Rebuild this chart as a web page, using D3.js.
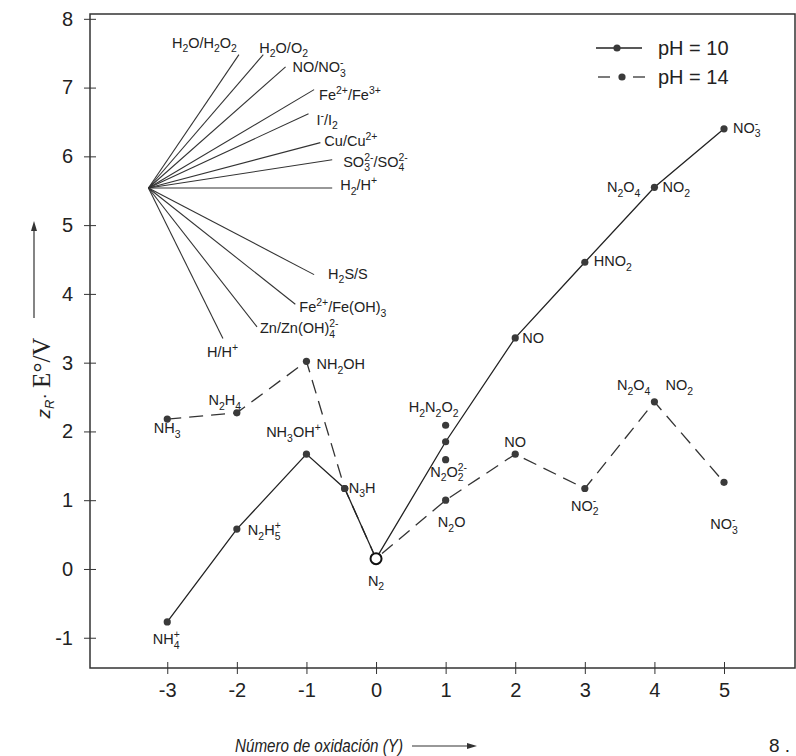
<!DOCTYPE html>
<html>
<head>
<meta charset="utf-8">
<script src="https://cdn.jsdelivr.net/npm/d3@7"></script>
<style>
  body { margin: 0; background: #fff; }
  text { font-family: "Liberation Sans", Arial, sans-serif; fill: #222; }
</style>
</head>
<body>
<script>
// oxidation state ticks and potential ticks
const xTicks = [-3, -2, -1, 0, 1, 2, 3, 4, 5];
const yTicks = [-1, 0, 1, 2, 3, 4, 5, 6, 7, 8];

// pH = 10 (solid)
const ph10Ox = [-3, -2, -1, -0.45, 0, 1, 2, 3, 4, 5];
const ph10E = [-0.77, 0.58, 1.67, 1.17, 0.15, 1.85, 3.36, 4.46, 5.55, 6.40];
const ph10Labels = ["NH_4^+", "N_2H_5^+", "NH_3OH^+", "N_3H", "N_2", "", "NO", "HNO_2", "NO_2", "NO_3^-"];

// pH = 14 (dashed)
const ph14Ox = [-3, -2, -1, -0.45, 0, 1, 2, 3, 4, 5];
const ph14E = [2.18, 2.27, 3.02, 1.17, 0.15, 1.00, 1.67, 1.17, 2.43, 1.26];
const ph14Labels = ["NH_3", "N_2H_4", "NH_2OH", "", "", "N_2O", "NO", "NO_2^-", "NO_2", "NO_3^-"];

// loose points at Y = 1
const extraOx = [1, 1];
const extraE = [2.09, 1.59];
const extraLabels = ["H_2N_2O_2", "N_2O_2^2-"];

const dimerLabel = "N_2O_4";
const openOx = 0; // N2 drawn as open circle

// fan of reference couples
const fanOrigin = [-3.27, 5.54];
const fanCouples = ["H_2O/H_2O_2", "H_2O/O_2", "NO/NO_3^-", "Fe^2+/Fe^3+", "I^-/I_2", "Cu/Cu^2+",
  "SO_3^2-/SO_4^2-", "H_2/H^+", "H_2S/S", "Fe^2+/Fe(OH)_3", "Zn/Zn(OH)_4^2-", "H/H^+"];
const fanEndOx = [-1.97, -1.62, -1.30, -0.89, -0.97, -0.80, -0.63, -0.63, -0.89, -1.16, -1.71, -2.20];
const fanEndE = [7.48, 7.48, 7.30, 6.97, 6.62, 6.20, 5.95, 5.54, 4.28, 3.85, 3.52, 3.35];

// label placement (pixel offsets from the mark)
const ph10Pos = [[-1, 22, "middle"], [11, 6, "start"], [-13, -17, "middle"], [4, 4, "start"], [0, 27, "middle"],
  null, [7, 5, "start"], [9, 4, "start"], [8, 5, "start"], [9, 4, "start"]];
const ph14Pos = [[0, 14, "middle"], [-12, -8, "middle"], [10, 8, "start"], null, null,
  [6, 27, "middle"], [0, -7, "middle"], [0, 22, "middle"], [11, -12, "start"], [0, 47, "middle"]];
const extraPos = [[-12, -13, "middle"], [3, 17, "middle"]];
const dimerPos = [[-14, 5], [-4, -12]];
const fanPos = [[-2, -7, "end"], [-4, -2, "start"], [7, 5, "start"], [5, 10, "start"], [8, 11, "start"],
  [4, 3, "start"], [11, 7, "start"], [8, 2, "start"], [14, 4, "start"], [4, 8, "start"], [3, 6, "start"], [-16, 18, "start"]];

const W = 796, H = 756;
const svg = d3.select("body").append("svg").attr("width", W).attr("height", H);

const x = d3.scaleLinear().domain([-4.11, 6.02]).range([90, 795]);
const y = d3.scaleLinear().domain([-1.44, 8.07]).range([668, 14]);

// chemical formula text: _x subscript, ^x superscript (stacked after a subscript)
function chem(sel, str, fs) {
  const re = /([_^])([0-9+\-]+)|([^_^]+)/g;
  let m, cur = 0, lastSub = 0;
  sel.attr("font-size", fs);
  while ((m = re.exec(str)) !== null) {
    const ts = sel.append("tspan");
    if (m[3]) {
      ts.text(m[3]).attr("dy", -cur);
      cur = 0; lastSub = 0;
    } else if (m[1] === "_") {
      const off = 0.32 * fs;
      ts.text(m[2]).attr("font-size", 0.72 * fs).attr("dy", off - cur);
      cur = off;
      lastSub = m[2].length * 0.4 * fs;
    } else {
      const off = -0.42 * fs;
      ts.text(m[2]).attr("font-size", 0.72 * fs).attr("dy", off - cur);
      if (lastSub) ts.attr("dx", -lastSub);
      cur = off; lastSub = 0;
    }
  }
}

function label(px, py, str, pos, fs) {
  const t = svg.append("text")
    .attr("x", px + pos[0]).attr("y", py + pos[1])
    .attr("text-anchor", pos[2] || "start");
  chem(t, str, fs || 14.5);
}

// frame
svg.append("rect")
  .attr("x", x.range()[0]).attr("y", y.range()[1])
  .attr("width", x.range()[1] - x.range()[0]).attr("height", y.range()[0] - y.range()[1])
  .attr("fill", "none").attr("stroke", "#333").attr("stroke-width", 1.5);

// axes
const yAxis = svg.append("g").attr("transform", "translate(90,0)")
  .call(d3.axisLeft(y).tickValues(yTicks).tickSize(6).tickPadding(11).tickFormat(d => String(d)));
yAxis.select(".domain").remove();
yAxis.selectAll(".tick line").attr("x1", 6).attr("stroke", "#333");
yAxis.selectAll("text").attr("font-size", 20).style("font-family", "Liberation Sans, Arial, sans-serif");

const xAxis = svg.append("g").attr("transform", "translate(0,668)")
  .call(d3.axisBottom(x).tickValues(xTicks).tickSize(6).tickPadding(9).tickFormat(d => String(d)));
xAxis.select(".domain").remove();
xAxis.selectAll(".tick line").attr("y1", -6).attr("stroke", "#333");
xAxis.selectAll("text").attr("font-size", 20).style("font-family", "Liberation Sans, Arial, sans-serif");

// fan lines
fanCouples.forEach((c, i) => {
  svg.append("line")
    .attr("x1", x(fanOrigin[0])).attr("y1", y(fanOrigin[1]))
    .attr("x2", x(fanEndOx[i])).attr("y2", y(fanEndE[i]))
    .attr("stroke", "#333").attr("stroke-width", 1.1);
  label(x(fanEndOx[i]), y(fanEndE[i]), c, fanPos[i]);
});

// series
const line = d3.line().x(d => x(d[0])).y(d => y(d[1]));
const ph10 = ph10Ox.map((v, i) => [v, ph10E[i]]);
const ph14 = ph14Ox.map((v, i) => [v, ph14E[i]]);

svg.append("path").datum(ph14).attr("d", line)
  .attr("fill", "none").attr("stroke", "#333").attr("stroke-width", 1.3)
  .attr("stroke-dasharray", "14,8");
svg.append("path").datum(ph10).attr("d", line)
  .attr("fill", "none").attr("stroke", "#222").attr("stroke-width", 1.3);

const dots = ph10.concat(ph14).concat(extraOx.map((v, i) => [v, extraE[i]]))
  .filter(d => d[0] !== openOx);
svg.selectAll("circle.pt").data(dots).join("circle").attr("class", "pt")
  .attr("cx", d => x(d[0])).attr("cy", d => y(d[1])).attr("r", 3.6)
  .attr("fill", "#3a3a3a");

svg.append("circle")
  .attr("cx", x(openOx)).attr("cy", y(ph10E[ph10Ox.indexOf(openOx)])).attr("r", 5.5)
  .attr("fill", "#fff").attr("stroke", "#111").attr("stroke-width", 2);

// species labels
ph10.forEach((d, i) => { if (ph10Labels[i]) label(x(d[0]), y(d[1]), ph10Labels[i], ph10Pos[i]); });
ph14.forEach((d, i) => { if (ph14Labels[i]) label(x(d[0]), y(d[1]), ph14Labels[i], ph14Pos[i]); });
extraOx.forEach((v, i) => label(x(v), y(extraE[i]), extraLabels[i], extraPos[i]));
label(x(ph10Ox[8]), y(ph10E[8]), dimerLabel, [dimerPos[0][0], dimerPos[0][1], "end"]);
label(x(ph14Ox[8]), y(ph14E[8]), dimerLabel, [dimerPos[1][0], dimerPos[1][1], "end"]);

// legend
const lg = svg.append("g");
lg.append("line").attr("x1", 596).attr("x2", 642).attr("y1", 48).attr("y2", 48)
  .attr("stroke", "#222").attr("stroke-width", 1.3);
lg.append("circle").attr("cx", 617).attr("cy", 48).attr("r", 3.6).attr("fill", "#3a3a3a");
lg.append("text").attr("x", 658).attr("y", 55).attr("font-size", 20).text("pH = 10");
lg.append("line").attr("x1", 598).attr("x2", 610).attr("y1", 77).attr("y2", 77)
  .attr("stroke", "#333").attr("stroke-width", 1.3);
lg.append("line").attr("x1", 633).attr("x2", 645).attr("y1", 77).attr("y2", 77)
  .attr("stroke", "#333").attr("stroke-width", 1.3);
lg.append("circle").attr("cx", 622).attr("cy", 77).attr("r", 3.6).attr("fill", "#3a3a3a");
lg.append("text").attr("x", 658).attr("y", 84).attr("font-size", 20).text("pH = 14");

// y title
const yt = svg.append("text").attr("transform", "translate(50,378) rotate(-90)")
  .attr("text-anchor", "middle");
yt.append("tspan").text("z").attr("font-style", "italic").attr("font-size", 19);
yt.append("tspan").text("R").attr("font-style", "italic").attr("font-size", 13).attr("dy", 4);
yt.append("tspan").text("· ").attr("font-size", 19).attr("dy", -4);
yt.append("tspan").text("E°/V").attr("font-size", 25)
  .style("font-family", "Liberation Serif, Times New Roman, serif");
svg.append("line").attr("x1", 34).attr("x2", 34).attr("y1", 318).attr("y2", 228)
  .attr("stroke", "#333").attr("stroke-width", 1.2);
svg.append("path").attr("d", "M34,221L31,231L37,231Z").attr("fill", "#333");

// x title
svg.append("text").attr("x", 235).attr("y", 752).attr("font-size", 19).attr("font-style", "italic")
  .attr("textLength", 168).attr("lengthAdjust", "spacingAndGlyphs")
  .text("Número de oxidación (Y)");
svg.append("line").attr("x1", 412).attr("x2", 470).attr("y1", 746).attr("y2", 746)
  .attr("stroke", "#333").attr("stroke-width", 1.2);
svg.append("path").attr("d", "M477,746L467,743L467,749Z").attr("fill", "#333");

svg.append("text").attr("x", 790).attr("y", 752).attr("text-anchor", "end").attr("font-size", 19).text("8 .");
</script>
</body>
</html>
